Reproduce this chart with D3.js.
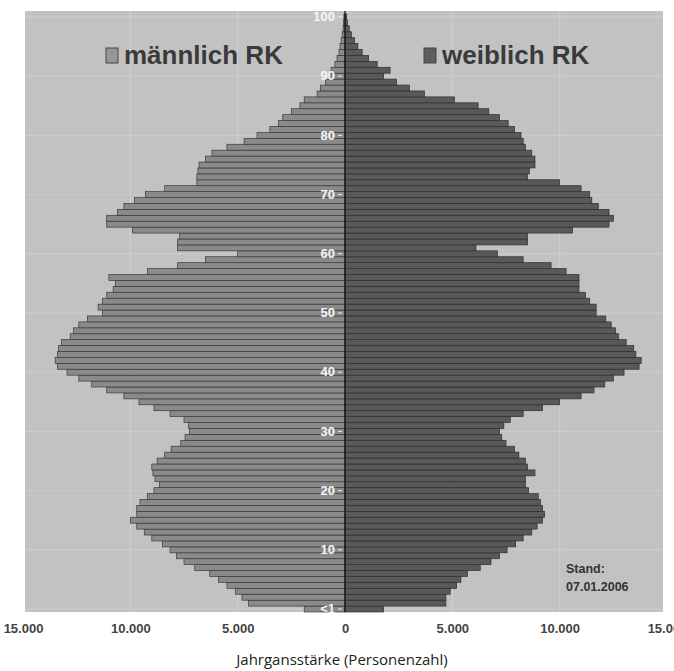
<!DOCTYPE html>
<html lang="de">
<head>
<meta charset="UTF-8">
<title>Alterspyramide RK</title>
<script src="https://cdn.jsdelivr.net/npm/d3@7"></script>
<style>
  body { margin: 0; background: #ffffff; }
  svg { display: block; }
</style>
</head>
<body>
<svg id="mainsvg" width="674" height="671"></svg>
<script>
// Jahrgangsstärke je Alter (0 = "<1" ... 100), Stand 07.01.2006
const ages = d3.range(0, 101);
const male = [
  1900, 4500, 4800, 5100, 5500, 5900, 6300, 7000, 7500, 7850,
  8150, 8500, 9000, 9350, 9700, 10000, 9700, 9700, 9550, 9200,
  8900, 8650, 8850, 8950, 9000, 8750, 8400, 8100, 7650, 7450,
  7250, 7300, 7500, 8150, 8900, 9600, 10300, 11100, 11800, 12400,
  12950, 13400, 13500, 13400, 13350, 13200, 12800, 12650, 12400, 12000,
  11300, 11500, 11300, 11100, 10800, 10700, 11000, 9200, 7800, 6500,
  5000, 7800, 7800, 7700, 9900, 11100, 11100, 10600, 10300, 9800,
  9300, 8400, 6900, 6900, 6850, 6800, 6500, 6200, 5500, 4700,
  4100, 3500, 3100, 2900, 2500, 2100, 1900, 1300, 1150, 900,
  700, 650, 470, 370, 280, 230, 180, 130, 90, 70,
  50
];
const female = [
  1800, 4700, 4700, 4900, 5200, 5400, 5700, 6300, 6800, 7200,
  7550, 7950, 8300, 8700, 8950, 9200, 9300, 9200, 9100, 9000,
  8550, 8400, 8400, 8850, 8500, 8400, 8100, 7900, 7500, 7300,
  7200, 7400, 7700, 8300, 9200, 10000, 11000, 11600, 12100, 12500,
  13000, 13700, 13800, 13550, 13450, 13100, 12750, 12600, 12400, 12150,
  11700, 11700, 11400, 11200, 10900, 10900, 10900, 10300, 9600, 8300,
  7100, 6100, 8500, 8500, 10600, 12300, 12500, 12300, 11800, 11500,
  11400, 11000, 10000, 8500, 8600, 8850, 8850, 8700, 8400, 8300,
  8200, 7900, 7600, 7200, 6700, 6200, 5100, 3700, 3000, 2400,
  1800, 2100, 1500, 1100, 800, 600, 450, 300, 200, 120,
  80
];
const xTicks = [-15000, -10000, -5000, 0, 5000, 10000, 15000];
const yTicks = [0, 10, 20, 30, 40, 50, 60, 70, 80, 90, 100];
const legendLabels = ["männlich RK", "weiblich RK"];
const standLines = ["Stand:", "07.01.2006"];
const axisTitle = "Jahrgansstärke (Personenzahl)";

const svg = d3.select('#mainsvg');
const plot = {left: 25, right: 663, top: 11, bottom: 612};

const de = d3.formatLocale({decimal: ",", thousands: ".", grouping: [3], currency: ["", " €"]});
const fmt = de.format(",d");

const x = d3.scaleLinear().domain([-15000, 15000]).range([23, 667]);
const y = d3.scaleBand().domain(ages).range([plot.bottom, 14]).paddingInner(0);

// Hintergrund
svg.append('rect')
  .attr('x', plot.left).attr('y', plot.top)
  .attr('width', plot.right - plot.left).attr('height', plot.bottom - plot.top)
  .attr('fill', '#c2c2c2');

// Gitternetz
svg.append('g').selectAll('line.v')
  .data(xTicks.filter(d => d !== 0 && Math.abs(d) < 15000))
  .join('line')
  .attr('x1', d => x(d)).attr('x2', d => x(d))
  .attr('y1', plot.top).attr('y2', plot.bottom)
  .attr('stroke', '#d0d0d0').attr('stroke-width', 1);
svg.append('g').selectAll('line.h')
  .data(yTicks)
  .join('line')
  .attr('x1', plot.left).attr('x2', plot.right)
  .attr('y1', d => y(d) + y.bandwidth() / 2).attr('y2', d => y(d) + y.bandwidth() / 2)
  .attr('stroke', '#cdcdcd').attr('stroke-width', 1);

// Balken
const bars = svg.append('g');
bars.selectAll('rect.m')
  .data(ages)
  .join('rect')
  .attr('class', 'm')
  .attr('x', d => x(-male[d]))
  .attr('y', d => y(d))
  .attr('width', d => x(0) - x(-male[d]))
  .attr('height', y.bandwidth())
  .attr('fill', '#8a8a8a')
  .attr('stroke', '#3a3a3a')
  .attr('stroke-width', 0.7);
bars.selectAll('rect.f')
  .data(ages)
  .join('rect')
  .attr('class', 'f')
  .attr('x', x(0))
  .attr('y', d => y(d))
  .attr('width', d => x(female[d]) - x(0))
  .attr('height', y.bandwidth())
  .attr('fill', '#595959')
  .attr('stroke', '#2e2e2e')
  .attr('stroke-width', 0.7);

// Mittellinie
svg.append('line')
  .attr('x1', x(0)).attr('x2', x(0))
  .attr('y1', plot.top).attr('y2', plot.bottom)
  .attr('stroke', '#111').attr('stroke-width', 1.2);

// Altersachse (weiß, mittig)
const yAxis = svg.append('g')
  .attr('transform', `translate(${x(0) - 3},0)`)
  .call(d3.axisLeft(y).tickValues(yTicks).tickSize(4).tickPadding(3)
    .tickFormat(d => d === 0 ? '<1' : d));
yAxis.select('.domain').remove();
yAxis.selectAll('line').attr('stroke', '#f0f0f0');
yAxis.selectAll('text')
  .attr('fill', '#f6f6f6')
  .attr('font-family', 'Liberation Sans, Arial, sans-serif')
  .attr('font-weight', 'bold')
  .attr('font-size', 13);

// x-Achse
const xAxis = svg.append('g')
  .attr('transform', `translate(0,${plot.bottom})`)
  .call(d3.axisBottom(x).tickValues(xTicks).tickSize(0).tickPadding(12)
    .tickFormat(d => fmt(Math.abs(d))));
xAxis.select('.domain').remove();
xAxis.selectAll('text')
  .attr('fill', '#444')
  .attr('font-family', 'Liberation Sans, Arial, sans-serif')
  .attr('font-weight', 'bold')
  .attr('font-size', 13);

svg.append('text')
  .attr('x', x(0) - 3).attr('y', 665)
  .attr('text-anchor', 'middle')
  .attr('font-family', 'Open Sans, sans-serif')
  .attr('font-size', 15)
  .attr('fill', '#222')
  .text(axisTitle);

// Legende
const legend = svg.append('g');
const legendPos = [{bx: 106, tx: 124, fill: '#969696'}, {bx: 424, tx: 442, fill: '#5e5e5e'}];
legend.selectAll('rect')
  .data(legendLabels)
  .join('rect')
  .attr('x', (d, i) => legendPos[i].bx).attr('y', 48)
  .attr('width', 12).attr('height', 15)
  .attr('fill', (d, i) => legendPos[i].fill)
  .attr('stroke', '#444').attr('stroke-width', 1);
legend.selectAll('text')
  .data(legendLabels)
  .join('text')
  .attr('x', (d, i) => legendPos[i].tx).attr('y', 64)
  .attr('font-family', 'Liberation Sans, Arial, sans-serif')
  .attr('font-weight', 'bold')
  .attr('font-size', 26)
  .attr('fill', '#3a3a3a')
  .text(d => d);

// Stand
svg.append('g').selectAll('text')
  .data(standLines)
  .join('text')
  .attr('x', 566).attr('y', (d, i) => 573 + i * 18)
  .attr('font-family', 'Liberation Sans, Arial, sans-serif')
  .attr('font-weight', 'bold')
  .attr('font-size', 12.5)
  .attr('fill', '#333')
  .text(d => d);
</script>
</body>
</html>
